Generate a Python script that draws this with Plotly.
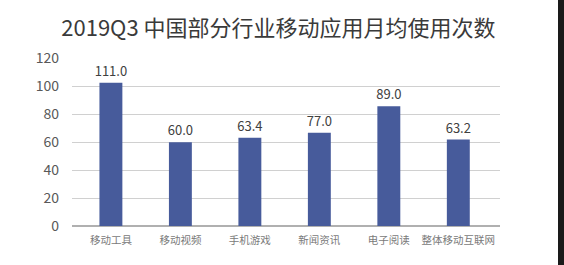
import plotly.graph_objects as go

categories = ["移动工具", "移动视频", "手机游戏", "新闻资讯", "电子阅读", "整体移动互联网"]
bar_heights = [102.4, 59.8, 63.1, 66.6, 85.5, 61.7]
value_labels = ["111.0", "60.0", "63.4", "77.0", "89.0", "63.2"]
y_ticks = [0, 20, 40, 60, 80, 100, 120]

FONT = "Noto Sans CJK SC, Noto Sans, sans-serif"

fig = go.Figure()
fig.add_trace(go.Bar(
    x=list(range(len(categories))),
    y=bar_heights,
    text=value_labels,
    textposition="outside",
    constraintext="none",
    textfont=dict(family=FONT, size=13, color="#404040"),
    cliponaxis=False,
    marker=dict(color="#475b9b", line=dict(width=0)),
    width=0.33,
    hoverinfo="skip",
))

fig.update_layout(
    width=564, height=265,
    margin=dict(l=72, r=64, t=58, b=39),
    paper_bgcolor="white", plot_bgcolor="white",
    showlegend=False,
    title=dict(
        text="2019Q3 中国部分行业移动应用月均使用次数",
        x=272/564, xanchor="center", xref="paper",
        y=1 - 28/265, yanchor="middle", yref="container",
        font=dict(family=FONT, size=22, color="#3a3a3a"),
    ),
    xaxis=dict(
        range=[-0.56, 5.6],
        tickmode="array",
        tickvals=list(range(len(categories))),
        ticktext=categories,
        tickfont=dict(family=FONT, size=10.5, color="#7a7a7a"),
        showgrid=False, zeroline=False, showline=False,
        ticks="", ticklabelstandoff=6,
    ),
    yaxis=dict(
        range=[0, 120],
        tickmode="array", tickvals=y_ticks,
        tickfont=dict(family=FONT, size=14, color="#595959"),
        showgrid=True, gridcolor="#d0d0d0", gridwidth=1.2,
        zeroline=True, zerolinecolor="#b0b0b0", zerolinewidth=1.5,
        showline=False, ticks="", ticklabelstandoff=12,
    ),
    shapes=[dict(
        type="rect", xref="paper", yref="paper",
        x0=(558-72)/428, x1=(566-72)/428,
        y0=-0.26, y1=1.4,
        fillcolor="#1a1a1a", line=dict(width=0), layer="above",
    )],
)

fig.write_html("out.html")
